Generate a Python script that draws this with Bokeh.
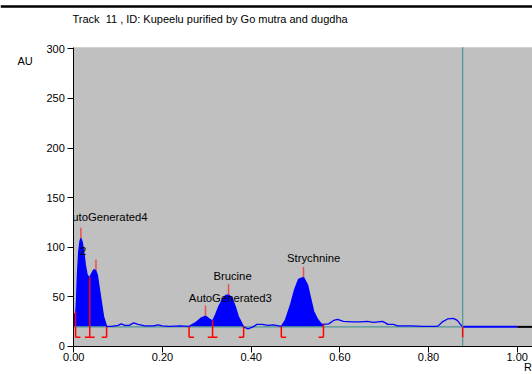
from bokeh.plotting import figure
from bokeh.models import FixedTicker, PrintfTickFormatter, ColumnDataSource
from bokeh.core.properties import value
from bokeh.embed import file_html
from bokeh.resources import INLINE

# ---- data ----
title_text = "Track\u00a0 11 , ID: Kupeelu purified by Go mutra and dugdha"
y_label = "AU"
x_label = "R"

scan_rf = [0.000, 0.004, 0.006, 0.008, 0.011, 0.014, 0.016, 0.019, 0.022, 0.026,
           0.030, 0.035, 0.040, 0.045, 0.049, 0.053, 0.057, 0.062, 0.067, 0.074,
           0.085, 0.100, 0.107, 0.115, 0.125, 0.135, 0.145, 0.160, 0.180, 0.190,
           0.200, 0.215, 0.240,
           0.260, 0.274, 0.286, 0.297, 0.304, 0.313, 0.320, 0.327, 0.335, 0.342,
           0.349, 0.357, 0.364, 0.371, 0.380, 0.383,
           0.393, 0.404, 0.413, 0.425, 0.437, 0.450,
           0.468, 0.477, 0.489, 0.498, 0.507, 0.518, 0.527, 0.534, 0.541, 0.550,
           0.558, 0.563,
           0.575, 0.586, 0.595, 0.608, 0.628, 0.646, 0.662, 0.676, 0.696, 0.703,
           0.708, 0.721, 0.730, 0.760, 0.789, 0.816, 0.822, 0.831, 0.843, 0.856,
           0.865, 0.872, 0.877]
scan_au = [33, 31, 45, 70, 95, 106, 109, 105, 97, 82,
           72, 69, 73, 77, 77, 72, 60, 45, 30, 20,
           20, 21, 22.5, 21, 21, 23.5, 22, 20.5, 20.5, 21.5,
           20.5, 20, 20.5,
           20, 23.5, 28, 30.5, 28, 25.5, 32, 40, 47, 51,
           52, 48.5, 40, 30, 22, 19.5,
           17.5, 19.5, 22, 22, 21, 21.5,
           20, 26, 42, 57, 67.5, 69.5, 62, 48.5, 35, 27,
           22.5, 22,
           22.5, 26, 27, 25, 24.5, 24.5, 25, 24, 25, 23.5,
           22, 22, 20.5, 20.5, 20, 20, 20.5, 24.5, 27.5, 28,
           26, 22, 19.5]

baseline_au = 19.5
scan_end_rf = 0.877
plate_end_rf = 1.0

# integrated peak windows (start, end)
window_start = [0.000, 0.260, 0.468]
window_end = [0.074, 0.383, 0.563]

# peak maxima
peak_rf = [0.016, 0.050, 0.297, 0.349, 0.518]
peak_au = [109, 77, 30.5, 52, 69.5]

# peak boundary markers
bound_rf = [0.004, 0.036, 0.074, 0.260, 0.313, 0.383, 0.468, 0.563, 0.877]
bound_top = [35, 70, 19.5, 20, 26, 20, 20, 22, 19.5]
bound_kind = ["start", "mid", "end", "start", "mid", "end", "start", "end", "cut"]

# peak names
label_text = ["AutoGenerated4", "2", "AutoGenerated3", "Brucine", "Strychnine"]
label_rf = [0.073, 0.021, 0.353, 0.358, 0.541]
label_au = [130, 96.5, 49, 71, 89.5]

x_ticks = [0.0, 0.2, 0.4, 0.6, 0.8, 1.0]
y_ticks = [0, 50, 100, 150, 200, 250, 300]

# ---- layout / styling constants ----
FONT = "Liberation Sans"
BLUE = "#0000FF"
RED = "#FF0000"
PEAKRED = "#E85050"
TEAL = "#4F9696"
GREY = "#C0C0C0"
BOTTOM = 9
HOOK = 0.011
TICK_LEN = 10.5
X0, X1 = -0.1653, 1.0345      # canvas extent in Rf
Y0, Y1 = -28.56, 348.85       # canvas extent in AU
PLOT_TOP = 301.7

p = figure(width=532, height=374, x_range=(X0, X1), y_range=(Y0, Y1),
           min_border=0, output_backend="svg", toolbar_location=None)
p.background_fill_color = "white"
p.border_fill_color = "white"
p.outline_line_color = None
p.xgrid.visible = False
p.ygrid.visible = False

# grey plotting area
p.quad(left=[0], right=[X1], bottom=[0], top=[PLOT_TOP], fill_color=GREY, line_color=None)

# page separator line at the top
p.line([X0, X1], [342.8, 342.8], line_color="black", line_width=2.5)

for ax in (p.xaxis[0], p.yaxis[0]):
    ax.fixed_location = 0
    ax.axis_line_color = "black"
    ax.major_tick_line_color = "black"
    ax.major_tick_out = 6
    ax.major_tick_in = 0
    ax.minor_tick_line_color = None
    ax.major_label_text_font = FONT
    ax.major_label_text_font_size = "11px"
    ax.major_label_text_color = "black"

p.xaxis.ticker = FixedTicker(ticks=x_ticks)
p.xaxis.formatter = PrintfTickFormatter(format="%.2f")
p.xaxis.major_label_standoff = 1
p.xaxis.bounds = (0, X1)
p.yaxis.ticker = FixedTicker(ticks=y_ticks)
p.yaxis.major_label_standoff = 3
p.yaxis.bounds = (0, PLOT_TOP)

# filled peak areas
for s, e in zip(window_start, window_end):
    xs = [x for x in scan_rf if s <= x <= e]
    ys = [y for x, y in zip(scan_rf, scan_au) if s <= x <= e]
    p.varea(x=xs, y1=[baseline_au] * len(xs), y2=ys, fill_color=BLUE)

# baseline
p.line([0, scan_end_rf], [baseline_au, baseline_au], line_color=TEAL, line_width=1.2)

# scan curve
p.line(scan_rf, scan_au, line_color=BLUE, line_width=1.3)
p.line([scan_end_rf, plate_end_rf], [baseline_au, baseline_au], line_color=BLUE, line_width=2)
p.line([plate_end_rf, X1], [baseline_au, baseline_au], line_color="black", line_width=2)

# solvent front line
p.segment(x0=[scan_end_rf], y0=[0], x1=[scan_end_rf], y1=[PLOT_TOP], line_color=TEAL, line_width=1.2)

# boundary markers
vx, vy0, vy1, hx0, hx1 = [], [], [], [], []
for x, t, k in zip(bound_rf, bound_top, bound_kind):
    vx.append(x); vy0.append(t); vy1.append(BOTTOM)
    if k == "start":
        hx0.append(x); hx1.append(x + HOOK)
    elif k == "end":
        hx0.append(x - HOOK); hx1.append(x)
    elif k == "mid":
        hx0.append(x - HOOK); hx1.append(x + HOOK)
p.segment(x0=vx, y0=vy0, x1=vx, y1=vy1, line_color=RED, line_width=1.5)
p.segment(x0=hx0, y0=[BOTTOM] * len(hx0), x1=hx1, y1=[BOTTOM] * len(hx0),
          line_color=RED, line_width=1.5)

# peak top markers
p.segment(x0=peak_rf, y0=peak_au, x1=peak_rf, y1=[a + TICK_LEN for a in peak_au],
          line_color=PEAKRED, line_width=1.5)

# peak names (the first one is cut by the plot's left edge)
src = ColumnDataSource(dict(x=label_rf, y=label_au, t=label_text))
p.text(x="x", y="y", text="t", source=src, text_font=value(FONT),
       text_font_size="11.3px", text_align="center", text_baseline="middle",
       text_color="black")
# cover the part of the first label that lies left of the plot
p.quad(left=[X0], right=[0], bottom=[110], top=[150], fill_color="white", line_color=None)

# outside texts
p.text(x=[-0.003], y=[329.7], text=[title_text], text_font=value(FONT),
       text_font_size="11px", text_align="left", text_baseline="middle", text_color="black")
p.text(x=[-0.110], y=[288.3], text=[y_label], text_font=value(FONT),
       text_font_size="11px", text_align="center", text_baseline="middle", text_color="black")
p.text(x=[1.0155], y=[-21.2], text=[x_label], text_font=value(FONT),
       text_font_size="11px", text_align="left", text_baseline="middle", text_color="black")

open("out.html", "w").write(file_html(p, INLINE))
